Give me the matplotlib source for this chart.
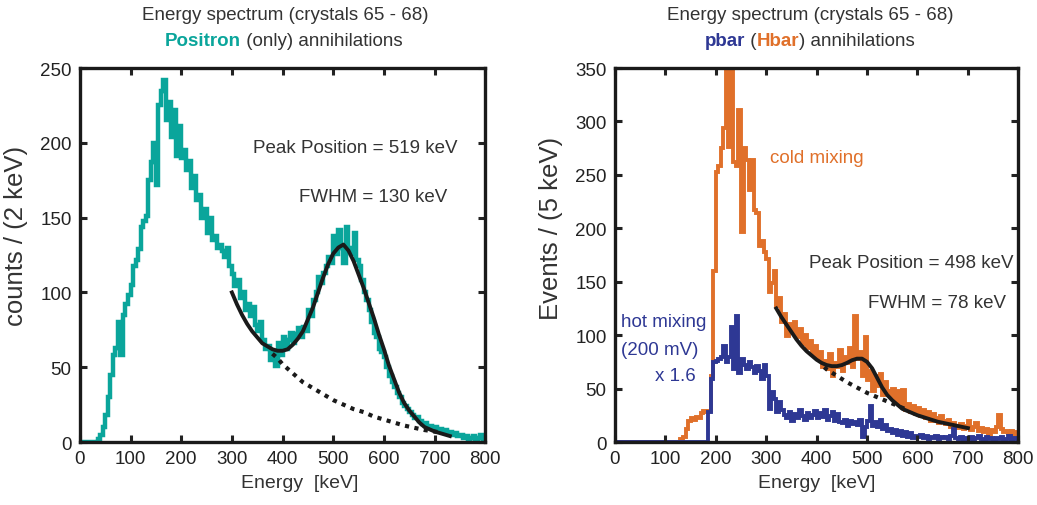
import numpy as np
import matplotlib
matplotlib.use("Agg")
import matplotlib.pyplot as plt

plt.rcParams['font.family'] = ['Liberation Sans', 'DejaVu Sans']

TEAL = "#0aa59b"
ORANGE = "#e0702a"
BLUE = "#2e3894"
GREY = "#333333"

# ---- left panel: positron annihilations, 5 keV bins from 0 to 800 ----
pos_edges = np.arange(0, 805, 5)
pos_counts = [
    0, 0, 0, 0, 0, 0, 0, 2, 5, 10,                        # 0
    18, 30, 45, 58, 63, 80, 58, 85, 92, 98,               # 50
    105, 118, 122, 129, 144, 148, 151, 175, 187, 200,     # 100
    172, 225, 235, 242, 215, 227, 204, 222, 191, 211,     # 150
    190, 195, 182, 188, 170, 178, 162, 165, 150, 156,     # 200
    140, 150, 135, 138, 130, 132, 128, 124, 130, 118,     # 250
    112, 104, 108, 96, 100, 88, 92, 84, 90, 78,           # 300
    74, 80, 68, 62, 64, 55, 60, 51, 66, 58,               # 350
    70, 62, 68, 73, 66, 72, 76, 70, 77, 74,               # 400
    88, 84, 95, 100, 110, 106, 113, 118, 124, 120,        # 450
    138, 126, 142, 130, 120, 144, 130, 126, 140, 122,     # 500
    118, 108, 100, 95, 88, 80, 73, 70, 62, 60,            # 550
    57, 50, 44, 40, 37, 33, 30, 26, 24, 22,               # 600
    20, 18, 16, 17, 14, 12, 13, 10, 11, 9,                # 650
    10, 8, 9, 7, 8, 6, 7, 5, 6, 4,                        # 700
    5, 3, 4, 2, 3, 4, 2, 3, 5, 2,                         # 750
]

pos_fit_e = [300, 310, 320, 330, 340, 350, 360, 370, 380, 390, 400, 410,
             420, 430, 440, 450, 460, 470, 480, 490, 500, 510, 520, 530,
             540, 550, 560, 570, 580, 590, 600, 610, 620, 630, 640, 650,
             660, 670, 680, 690, 700, 710, 720, 730]
pos_fit = [100, 92, 85, 79, 74, 70, 66, 64, 62, 61, 61, 62,
           65, 69, 74, 82, 90, 100, 110, 119, 126, 130, 132, 128,
           121, 112, 103, 93, 83, 72, 62, 51, 42, 33, 26, 21,
           17, 13, 10, 8.5, 7, 6, 5, 4]
pos_bg_e = [380, 390, 400, 420, 440, 460, 480, 500, 520, 540, 560, 580,
            600, 620, 640, 660, 680, 700, 710]
pos_bg = [59, 56, 52, 46, 40, 36, 32, 28, 25, 22, 20, 17,
          15, 13, 11, 9.5, 8, 7, 6.5]

# ---- right panel: pbar / Hbar annihilations, 5 keV bins ----
pb_edges = np.arange(0, 805, 5)
cold_counts = [
    0, 0, 0, 0, 0, 0, 0, 0, 0, 0,                         # 0
    0, 0, 0, 0, 0, 0, 0, 0, 0, 0,                         # 50
    0, 0, 0, 0, 0, 0, 3, 5, 12, 20,                       # 100
    22, 21, 23, 22, 27, 29, 28, 29, 62, 160,              # 150
    253, 258, 275, 294, 360, 276, 360, 262, 258, 311,     # 200
    197, 275, 264, 236, 264, 217, 214, 183, 188, 178,     # 250
    171, 140, 149, 160, 127, 135, 112, 120, 99, 110,      # 300
    104, 112, 98, 106, 92, 100, 88, 95, 82, 90,           # 350
    78, 84, 70, 76, 68, 82, 62, 74, 70, 86,               # 400
    66, 80, 74, 88, 70, 118, 78, 84, 62, 98,              # 450
    58, 66, 48, 62, 52, 64, 44, 56, 48, 42,               # 500
    50, 38, 48, 34, 49, 30, 36, 28, 34, 26,               # 550
    32, 24, 30, 22, 28, 20, 26, 22, 18, 24,               # 600
    20, 17, 21, 14, 18, 15, 13, 17, 12, 15,               # 650
    20, 11, 14, 18, 10, 13, 9, 12, 7, 11,                 # 700
    9, 14, 25, 12, 9, 10, 8, 10, 7, 9,                    # 750
]
hot_counts = [
    0, 0, 0, 0, 0, 0, 0, 0, 0, 0,                         # 0
    0, 0, 0, 0, 0, 0, 0, 0, 0, 0,                         # 50
    0, 0, 0, 0, 0, 0, 0, 0, 0, 0,                         # 100
    0, 0, 0, 0, 0, 0, 0, 28, 59, 75,                      # 150
    76, 78, 80, 90, 75, 80, 108, 68, 118, 65,             # 200
    78, 72, 68, 75, 70, 65, 71, 66, 59, 72,               # 250
    62, 31, 47, 40, 28, 37, 30, 25, 22, 28,               # 300
    20, 26, 22, 30, 24, 21, 27, 22, 25, 29,               # 350
    22, 27, 23, 30, 21, 24, 28, 20, 26, 19,               # 400
    18, 21, 15, 20, 17, 19, 16, 21, 5, 14,                # 450
    20, 34, 15, 19, 14, 21, 12, 16, 10, 12,               # 500
    8, 11, 7, 10, 6, 9, 5, 8, 4, 6,                       # 550
    5, 7, 4, 6, 3, 5, 4, 6, 3, 5,                         # 600
    4, 5, 3, 6, 12, 4, 3, 5, 2, 4,                        # 650
    3, 5, 2, 4, 6, 3, 2, 5, 3, 4,                         # 700
    2, 4, 3, 5, 2, 3, 6, 2, 4, 3,                         # 750
]

pb_fit_e = [320, 330, 340, 350, 360, 370, 380, 390, 400, 410, 420, 430,
            440, 450, 460, 470, 480, 490, 500, 510, 520, 530, 540, 550,
            560, 570, 580, 590, 600, 620, 640, 660, 680, 700]
pb_fit = [125, 117, 110, 103, 96, 90, 85, 81, 77, 74, 72, 71,
          71, 72, 74, 76.5, 78, 78, 75, 69, 60, 51, 44, 39,
          35, 31, 29, 27, 25, 22, 19, 17, 15, 13]
pb_bg_e = [415, 420, 440, 460, 480, 500, 520, 540, 560, 575]
pb_bg = [70, 68, 62, 56, 51, 46, 42, 38, 34, 31]

x_ticks = [0, 100, 200, 300, 400, 500, 600, 700, 800]

fig = plt.figure(figsize=(10.37, 5.06), dpi=100)
ax1 = fig.add_axes([0.077, 0.1245, 0.391, 0.739])
ax2 = fig.add_axes([0.593, 0.1245, 0.389, 0.739])


def style_axes(ax, ymax, ystep):
    ax.set_xlim(0, 800)
    ax.set_ylim(0, ymax)
    ax.set_xticks(x_ticks)
    ax.set_yticks(np.arange(0, ymax + 1, ystep))
    ax.tick_params(direction="in", length=5, width=2.2, labelsize=13.5,
                   top=True, right=True, colors="#222222", pad=6)
    for sp in ax.spines.values():
        sp.set_linewidth(2.4)
        sp.set_color("#1a1a1a")
    ax.set_xlabel("Energy  [keV]", fontsize=14, color=GREY, labelpad=2)


# left panel
ax1.stairs(pos_counts, pos_edges, color=TEAL, linewidth=3.2)
ax1.plot(pos_bg_e, pos_bg, color="#1a1a1a", linewidth=3, linestyle=(0, (1, 1.3)))
ax1.plot(pos_fit_e, pos_fit, color="#1a1a1a", linewidth=2.8)
style_axes(ax1, 250, 50)
ax1.xaxis.set_label_coords(0.543, -0.085)
ax1.set_ylabel("counts / (2 keV)", fontsize=18.5, color=GREY)
ax1.yaxis.set_label_coords(-0.128, 0.555)
ax1.text(745, 197, "Peak Position = 519 keV", fontsize=13.5, color=GREY,
         ha="right", va="center")
ax1.text(725, 164, "FWHM = 130 keV", fontsize=13.5, color=GREY,
         ha="right", va="center")

# right panel
ax2.stairs(cold_counts, pb_edges, color=ORANGE, linewidth=2.8)
ax2.stairs(hot_counts, pb_edges, color=BLUE, linewidth=2.8)
ax2.plot(pb_bg_e, pb_bg, color="#1a1a1a", linewidth=3, linestyle=(0, (1, 1.3)))
ax2.plot(pb_fit_e, pb_fit, color="#1a1a1a", linewidth=2.8)
style_axes(ax2, 350, 50)
ax2.xaxis.set_label_coords(0.5, -0.085)
ax2.set_ylabel("Events / (5 keV)", fontsize=18.5, color=GREY)
ax2.yaxis.set_label_coords(-0.128, 0.573)
ax2.text(308, 266, "cold mixing", fontsize=13.5, color=ORANGE,
         ha="left", va="center")
ax2.text(790, 168, "Peak Position = 498 keV", fontsize=13.5, color=GREY,
         ha="right", va="center")
ax2.text(775, 131, "FWHM = 78 keV", fontsize=13.5, color=GREY,
         ha="right", va="center")
ax2.text(12, 113, "hot mixing", fontsize=13.5, color=BLUE, ha="left", va="center")
ax2.text(12, 87, "(200 mV)", fontsize=13.5, color=BLUE, ha="left", va="center")
ax2.text(80, 62, "x 1.6", fontsize=13.5, color=BLUE, ha="left", va="center")

# titles
W, H = 1037, 506
for cx in (285, 810):
    fig.text(cx / W, 1 - 15 / H, "Energy spectrum (crystals 65 - 68)",
             fontsize=13.5, color=GREY, ha="center", va="center")


def chain(cx, cy, pieces):
    # multi-coloured title line, pieces placed one after another
    arts = []
    for i, (txt, col, bold) in enumerate(pieces):
        kw = dict(fontsize=13.5, color=col,
                  fontweight="bold" if bold else "normal")
        if i == 0:
            a = fig.text(cx / W, 1 - cy / H, txt, ha="left", va="center", **kw)
        else:
            a = ax1.annotate(txt, xy=(1, 0), xycoords=arts[-1],
                             ha="left", va="bottom", annotation_clip=False, **kw)
        arts.append(a)
    fig.canvas.draw()
    r = fig.canvas.get_renderer()
    x0 = arts[0].get_window_extent(r).x0
    x1 = arts[-1].get_window_extent(r).x1
    arts[0].set_x((cx - (x1 - x0) / 2) / W)
    return arts


chain(284, 41, [("Positron", TEAL, True), (" (only) annihilations", GREY, False)])
chain(810, 41, [("pbar", BLUE, True), (" (", GREY, False), ("Hbar", ORANGE, True),
                (") annihilations", GREY, False)])

fig.savefig("out.png", dpi=100)
